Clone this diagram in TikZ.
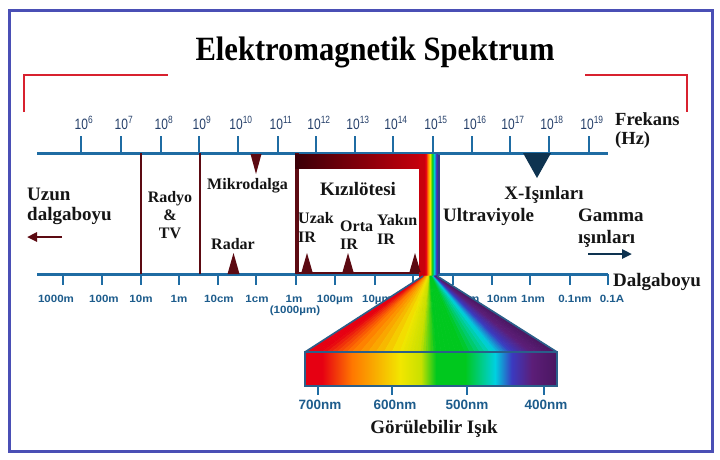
\documentclass[tikz,border=0pt]{standalone}
\usepackage{fontspec}
\setmainfont{Liberation Serif}
\newfontfamily\titlefont{Liberation Serif}[FakeStretch=0.9]
\newfontfamily\axfont{Liberation Sans}[FakeStretch=1.1]
\newfontfamily\nmfont{Liberation Sans}
\newfontfamily\frqfont{Liberation Sans}[FakeStretch=0.8]
\usetikzlibrary{arrows.meta}
\definecolor{framecol}{HTML}{4A4FB5}
\definecolor{bracketcol}{HTML}{D8212F}
\definecolor{axiscol}{HTML}{1F6CA3}
\definecolor{freqcol}{HTML}{26406A}
\definecolor{wavecol}{HTML}{1D5C8C}
\definecolor{maroon}{HTML}{5C0A12}
\definecolor{navy}{HTML}{0E3350}
\definecolor{txtcol}{HTML}{151515}
\definecolor{bandL}{HTML}{3A0008}
\definecolor{bandR}{HTML}{C8000C}
\definecolor{irred}{HTML}{C8000C}
\definecolor{edgeblue}{HTML}{2A5F8A}
\definecolor{uvline}{HTML}{2A3F8A}
\definecolor{r1}{HTML}{E60012}
\definecolor{r2}{HTML}{FF7800}
\definecolor{r3}{HTML}{F2E600}
\definecolor{r3b}{HTML}{C8E000}
\definecolor{r4}{HTML}{00C81E}
\definecolor{r5}{HTML}{00D0E0}
\definecolor{r6}{HTML}{3A3AC0}
\definecolor{r7}{HTML}{5C1E78}
\definecolor{r8}{HTML}{4A1660}
\pgfdeclarehorizontalshading{rainbowbar}{100bp}{color(0bp)=(r1); color(25bp)=(r1); color(28.35bp)=(r1); color(34.35bp)=(r2); color(43.85bp)=(r3); color(48bp)=(r3b); color(51bp)=(r4); color(56.75bp)=(r4); color(62.7bp)=(r5); color(66bp)=(r6); color(70bp)=(r7); color(75bp)=(r8); color(100bp)=(r8)}
\pgfdeclarehorizontalshading{rainbowcol}{100bp}{color(0bp)=(irred); color(25bp)=(irred); color(38bp)=(irred); color(43bp)=(r1); color(48bp)=(r2); color(54bp)=(r3); color(60bp)=(r4); color(65bp)=(r5); color(70bp)=(r6); color(75bp)=(r7); color(100bp)=(r7)}
\begin{document}
\begin{tikzpicture}[x=1pt,y=-1pt,
  biglbl/.style={font=\bfseries\fontsize{19}{20}\selectfont, text=txtcol, inner sep=0pt},
  midlbl/.style={font=\bfseries\fontsize{16}{18}\selectfont, text=txtcol, inner sep=0pt},
  freqlbl/.style={font=\frqfont\fontsize{15}{15}\selectfont, text=freqcol, inner sep=0pt, anchor=base},
  wavelbl/.style={font=\axfont\bfseries\fontsize{10.5}{10.5}\selectfont, text=wavecol, inner sep=0pt, anchor=base},
  nmlbl/.style={font=\nmfont\bfseries\fontsize{13.5}{14}\selectfont, text=wavecol, inner sep=0pt, anchor=base},
  axisline/.style={axiscol, line width=3pt},
  tickline/.style={axiscol, line width=2pt},
  bandline/.style={maroon, line width=2.5pt},
  edgeline/.style={edgeblue, line width=1.6pt}
]
\useasboundingbox (0,0) rectangle (720,459);
\fill[white] (0,0) rectangle (720,459);
\draw[framecol, line width=3pt] (9,10) rectangle (712,451);
% title and brackets
\draw[bracketcol, line width=2pt] (24,112) -- (24,75) -- (168,75);
\draw[bracketcol, line width=2pt] (585,75) -- (687,75) -- (687,112);
\node[font=\titlefont\bfseries\fontsize{34}{36}\selectfont, text=black, inner sep=0pt] (title) at (375,52) {Elektromagnetik Spektrum};
% frequency axis
\draw[axisline] (37,153) -- (608,153);
\foreach \x/\e in {81/6,121/7,161/8,199/9,238/10,278/11,316/12,355/13,393/14,433/15,472/16,510/17,549/18,589/19}{
  \draw[tickline] (\x,153) -- (\x,136);
  \node[freqlbl] (f\e) at (\x+3,129) {10\textsuperscript{\e}};
}
\node[biglbl, anchor=base west, font=\bfseries\fontsize{18.5}{19}\selectfont] (frek) at (615,125) {Frekans};
\node[biglbl, anchor=base west, font=\bfseries\fontsize{18.5}{19}\selectfont] (hz) at (615,144) {(Hz)};
% wavelength axis
\draw[axisline] (37,274) -- (608,274);
\foreach \x in {63,102,141,179,218,256,296,335,375,413,453,492,530,570,608}{
  \draw[tickline] (\x,274) -- (\x,285);
}
\foreach \x/\t [count=\i] in {56/1000m,104/100m,141/10m,179/1m,219/10cm,257/1cm,294/1m,335/100µm,377/10µm,417/1µm,461/100nm,502/10nm,533/1nm,575/0.1nm,612/0.1A}{
  \node[wavelbl] (w\i) at (\x,302) {\t};
}
\node[wavelbl] (w7b) at (295,313) {(1000µm)};
\node[wavelbl] (w10b) at (417,313) {(1000nm)};
\node[biglbl, anchor=base west] (dalga) at (613,286) {Dalgaboyu};
% radio and microwave separators
\draw[bandline] (141,153) -- (141,274);
\draw[bandline] (200,153) -- (200,274);
\fill[maroon] (250.5,154) -- (261.5,154) -- (256,174) -- cycle;
\fill[maroon] (227.5,274) -- (239.5,274) -- (233.5,253) -- cycle;
% infrared box
\fill[maroon] (295,153) rectangle (298.5,274);
\draw[maroon, line width=2pt] (296,272.5) -- (422,272.5);
\shade[left color=bandL, right color=bandR] (295,154.5) rectangle (422,168);
% rainbow column
\shade[shading=rainbowcol] (419,154.5) rectangle (438,277);
\draw[uvline, line width=2pt] (438.5,154.5) -- (438.5,274);
% IR markers
\foreach \x in {307,348,415}{
  \fill[maroon] (\x-5.5,272) -- (\x+5.5,272) -- (\x,253) -- cycle;
}
% fan
\foreach \ta/\tb/\ca/\cb in {0/0.067/r1/r1, 0.067/0.187/r1/r2, 0.187/0.377/r2/r3, 0.377/0.46/r3/r3b, 0.46/0.52/r3b/r4, 0.52/0.635/r4/r4, 0.635/0.754/r4/r5, 0.754/0.82/r5/r6, 0.82/0.9/r6/r7, 0.9/1/r7/r8}{
  \foreach \k in {0,...,5}{
    \pgfmathsetmacro\tA{\ta+(\tb-\ta)*\k/6}
    \pgfmathsetmacro\tB{\ta+(\tb-\ta)*(\k+1)/6}
    \pgfmathsetmacro\pc{100*(\k+0.5)/6}
    \filldraw[fill=\cb!\pc!\ca, draw=\cb!\pc!\ca, line width=0.5pt] (423+14*\tA,276) -- (423+14*\tB,276) -- (305+252*\tB,352) -- (305+252*\tA,352) -- cycle;
  }
}
\draw[edgeline] (423,276) -- (305,352);
\draw[edgeline] (437,276) -- (557,352);
% visible bar
\shade[shading=rainbowbar] (305,352) rectangle (557,386);
\draw[edgeblue, line width=2pt] (305,352) rectangle (557,386);
\foreach \x in {318,392,467,544}{
  \draw[tickline] (\x,386) -- (\x,395);
}
\node[nmlbl] (nm700) at (320,409) {700nm};
\node[nmlbl] (nm600) at (395,409) {600nm};
\node[nmlbl] (nm500) at (467,409) {500nm};
\node[nmlbl] (nm400) at (546,409) {400nm};
\node[biglbl, anchor=base] (gor) at (434,433) {Görülebilir Işık};
% region labels
\node[biglbl, anchor=base west] (uzun) at (27,200) {Uzun};
\node[biglbl, anchor=base west] (uzdb) at (27,220) {dalgaboyu};
\coordinate (la1) at (62,237);
\coordinate (la2) at (27,237);
\draw[maroon, line width=2.5pt, -{Triangle[length=10pt,width=9pt]}] (la1) -- (la2);
\node[midlbl, anchor=base] (radyo) at (170,202) {Radyo};
\node[midlbl, anchor=base] (amp) at (170,220) {\&};
\node[midlbl, anchor=base] (tv) at (170,238) {TV};
\node[midlbl, anchor=base west] (mikro) at (207,189) {Mikrodalga};
\node[midlbl, anchor=base] (radar) at (233,249) {Radar};
\node[biglbl, anchor=base] (kizil) at (358,195) {Kızılötesi};
\node[midlbl, anchor=base west] (uzak) at (298,223) {Uzak};
\node[midlbl, anchor=base west] (uzakir) at (298,242) {IR};
\node[midlbl, anchor=base west] (orta) at (340,231) {Orta};
\node[midlbl, anchor=base west] (ortair) at (340,249) {IR};
\node[midlbl, anchor=base west] (yakin) at (377,225) {Yakın};
\node[midlbl, anchor=base west] (yakinir) at (377,244) {IR};
\fill[navy] (523,153) -- (551,153) -- (537,178) -- cycle;
\node[biglbl, anchor=base] (xray) at (544,199) {X-Işınları};
\node[biglbl, anchor=base west] (uv) at (443,221) {Ultraviyole};
\node[biglbl, anchor=base west] (gamma) at (578,221) {Gamma};
\node[biglbl, anchor=base west] (gammais) at (578,243) {ışınları};
\coordinate (ra1) at (588,254);
\coordinate (ra2) at (632,254);
\draw[navy, line width=2.5pt, -{Triangle[length=10pt,width=9pt]}] (ra1) -- (ra2);
\end{tikzpicture}
\end{document}
